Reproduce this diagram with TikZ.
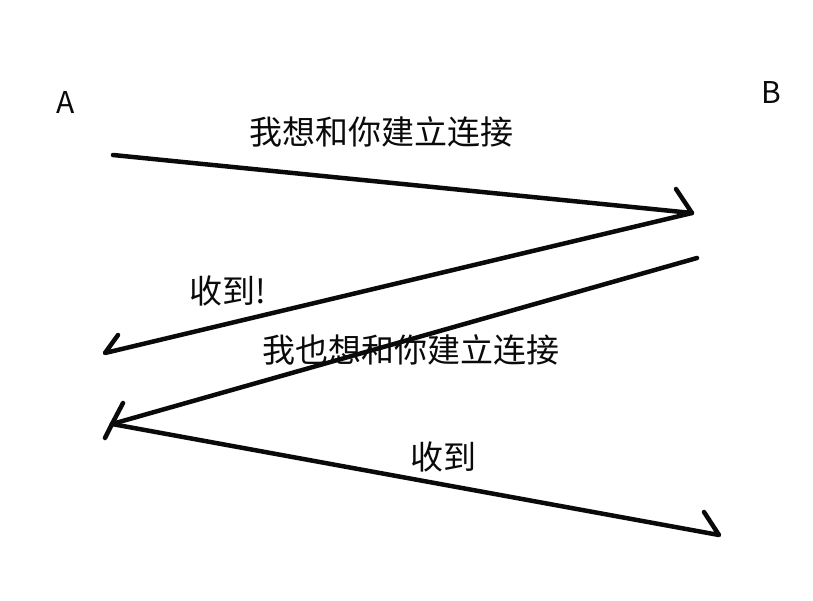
\documentclass[tikz,border=0pt]{standalone}
\usepackage{fontspec}
\setmainfont{Noto Sans CJK SC}
\usepackage{tikz}
\usetikzlibrary{positioning, calc}
\definecolor{inkblack}{RGB}{10,10,10}
\tikzset{
  msg/.style={inner sep=0pt, font=\fontsize{33}{38}\selectfont, text=inkblack},
  host/.style={inner sep=0pt, font=\fontsize{30}{36}\selectfont, text=inkblack},
  line/.style={line width=4.5pt, color=inkblack, line cap=round, line join=round}
}
\begin{document}
\begin{tikzpicture}[x=1pt, y=-1pt]
  \useasboundingbox (0,0) rectangle (813,600);

  % hosts
  \node[host] (hostA) at (66,103) {A};
  \node[host] (hostB) at (771,93) {B};

  % end points of the four messages
  \coordinate (syn0) at (113,155);
  \coordinate (syn1) at (692,213);
  \coordinate (ack1) at (105,353);
  \coordinate (fin0) at (697,258);
  \coordinate (fin1) at (112,424);
  \coordinate (end1) at (719,535);
  % barbs
  \coordinate (synB) at (676,189);
  \coordinate (ackB) at (118,335);
  \coordinate (finB1) at (123,403);
  \coordinate (finB2) at (105,438);
  \coordinate (endB) at (704,512);

  \draw[line] (syn0) -- (syn1) -- (synB);
  \draw[line] (syn1) -- (ack1) -- (ackB);
  \draw[line] (fin0) -- (fin1);
  \draw[line] (finB1) -- (fin1) -- (finB2);
  \draw[line] (fin1) -- (end1) -- (endB);

  % labels
  \node[msg] (synL) at (381,132) {我想和你建立连接};
  \node[msg] (ackL) at (228,291) {收到!};
  \node[msg] (finL) at (411,350) {我也想和你建立连接};
  \node[msg] (endL) at (443,457) {收到};
\end{tikzpicture}
\end{document}
